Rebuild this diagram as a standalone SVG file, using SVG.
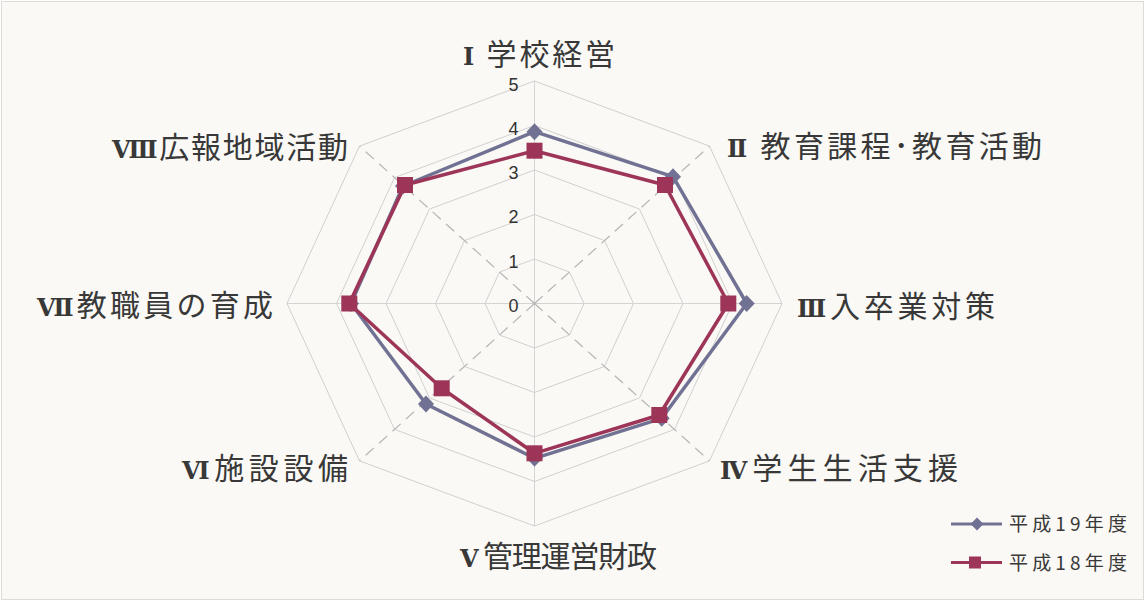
<svg xmlns="http://www.w3.org/2000/svg" width="1145" height="601" viewBox="0 0 1145 601">
<style>
.bg{fill:#faf9f5;stroke:#dcdcd8;stroke-width:1}
.ring{fill:none;stroke:#d0d0d0;stroke-width:1}
.spoke{stroke:#d4d4d4;stroke-width:1}
.dspoke{stroke:#b4b4b4;stroke-width:1.2;stroke-dasharray:11 7}
.tick{font-family:"Liberation Sans",Arial,sans-serif;font-size:18px;fill:#333;text-anchor:middle}
.lbl{font-family:"Noto Sans CJK JP","Noto Sans CJK SC",sans-serif;font-size:30px;fill:#383838}
.num{font-family:"DejaVu Serif","Liberation Serif","Noto Sans CJK JP",serif;font-size:24px;font-weight:bold}
.leg{font-family:"Noto Sans CJK JP","Noto Sans CJK SC",sans-serif;font-size:19px;fill:#383838}
.s19{fill:none;stroke:#717293;stroke-width:3.5;stroke-linejoin:round}
.s18{fill:none;stroke:#9d3558;stroke-width:3.5;stroke-linejoin:round}
.m19{fill:#717293}
.m18{fill:#9d3558}
</style>
<defs>
<path id="dia" d="M0,-8.5 L8,0 L0,8.5 L-8,0 Z"/>
<rect id="sq" x="-8" y="-8" width="16" height="16"/>
<path id="diaS" d="M0,-6.5 L6.5,0 L0,6.5 L-6.5,0 Z"/>
<rect id="sqS" x="-6" y="-6" width="12" height="12"/>
</defs>
<rect class="bg" x="1.5" y="1.5" width="1142" height="598"/>

<g id="grid">
<polygon class="ring" points="534.5,259 569.5,272.03 584,303.5 569.5,334.97 534.5,348 499.5,334.97 485,303.5 499.5,272.03"/>
<polygon class="ring" points="534.5,214.5 604.5,240.56 633.5,303.5 604.5,366.44 534.5,392.5 464.5,366.44 435.5,303.5 464.5,240.56"/>
<polygon class="ring" points="534.5,170 639.5,209.09 683,303.5 639.5,397.91 534.5,437 429.5,397.91 386,303.5 429.5,209.09"/>
<polygon class="ring" points="534.5,125.5 674.5,177.62 732.5,303.5 674.5,429.38 534.5,481.5 394.5,429.38 336.5,303.5 394.5,177.62"/>
<polygon class="ring" points="534.5,81 709.5,146.15 782,303.5 709.5,460.85 534.5,526 359.5,460.85 287,303.5 359.5,146.15"/>
<line class="spoke" x1="534.5" y1="303.5" x2="534.5" y2="81"/>
<line class="spoke" x1="534.5" y1="303.5" x2="534.5" y2="526"/>
<line class="spoke" x1="534.5" y1="303.5" x2="782" y2="303.5"/>
<line class="spoke" x1="534.5" y1="303.5" x2="287" y2="303.5"/>
<line class="dspoke" x1="534.5" y1="303.5" x2="709.5" y2="146.15"/>
<line class="dspoke" x1="534.5" y1="303.5" x2="709.5" y2="460.85"/>
<line class="dspoke" x1="534.5" y1="303.5" x2="359.5" y2="460.85"/>
<line class="dspoke" x1="534.5" y1="303.5" x2="359.5" y2="146.15"/>
</g>

<g id="ticks">
<text class="tick" x="513.5" y="90.5">5</text>
<text class="tick" x="513.5" y="134.5">4</text>
<text class="tick" x="513.5" y="178.5">3</text>
<text class="tick" x="513.5" y="223">2</text>
<text class="tick" x="513.5" y="267.5">1</text>
<text class="tick" x="513.5" y="311.5">0</text>
</g>

<g id="series19">
<polygon class="s19" points="534.5,131.7 673,176.7 746.7,303.5 661.7,418.3 534.5,458.3 426,404 351,303.5 403,186"/>
<use href="#dia" class="m19" x="534.5" y="131.7"/>
<use href="#dia" class="m19" x="673" y="176.7"/>
<use href="#dia" class="m19" x="746.7" y="303.5"/>
<use href="#dia" class="m19" x="661.7" y="418.3"/>
<use href="#dia" class="m19" x="534.5" y="458.3"/>
<use href="#dia" class="m19" x="426" y="404"/>
<use href="#dia" class="m19" x="351" y="303.5"/>
<use href="#dia" class="m19" x="403" y="186"/>
</g>

<g id="series18">
<polygon class="s18" points="534.5,150.7 665,185 728.3,303.5 659.3,415 534.5,453.3 441.7,388.3 349.3,303.5 405,185"/>
<use href="#sq" class="m18" x="534.5" y="150.7"/>
<use href="#sq" class="m18" x="665" y="185"/>
<use href="#sq" class="m18" x="728.3" y="303.5"/>
<use href="#sq" class="m18" x="659.3" y="415"/>
<use href="#sq" class="m18" x="534.5" y="453.3"/>
<use href="#sq" class="m18" x="441.7" y="388.3"/>
<use href="#sq" class="m18" x="349.3" y="303.5"/>
<use href="#sq" class="m18" x="405" y="185"/>
</g>

<g id="labels">
<text class="lbl" x="463" y="65" textLength="152" lengthAdjust="spacing"><tspan class="num">Ⅰ</tspan> 学校経営</text>
<text class="lbl" x="727" y="157" textLength="315" lengthAdjust="spacing"><tspan class="num">Ⅱ</tspan> 教育課程･教育活動</text>
<text class="lbl" x="797" y="316.5" textLength="198" lengthAdjust="spacing"><tspan class="num">Ⅲ</tspan>入卒業対策</text>
<text class="lbl" x="720" y="478.5" textLength="238" lengthAdjust="spacing"><tspan class="num">Ⅳ</tspan>学生生活支援</text>
<text class="lbl" x="460" y="567" textLength="197" lengthAdjust="spacing"><tspan class="num">Ⅴ</tspan> 管理運営財政</text>
<text class="lbl" x="182" y="478.5" textLength="166" lengthAdjust="spacing"><tspan class="num">Ⅵ</tspan>施設設備</text>
<text class="lbl" x="37" y="315.5" textLength="236" lengthAdjust="spacing"><tspan class="num">Ⅶ</tspan>教職員の育成</text>
<text class="lbl" x="112" y="158" textLength="236" lengthAdjust="spacing"><tspan class="num">Ⅷ</tspan>広報地域活動</text>
</g>

<g id="legend">
<line x1="951" y1="524" x2="1002" y2="524" stroke="#717293" stroke-width="3"/>
<use href="#diaS" class="m19" x="977" y="524"/>
<text class="leg" x="1009" y="531" textLength="118" lengthAdjust="spacing">平成19年度</text>
<line x1="951" y1="562.5" x2="1002" y2="562.5" stroke="#9d3558" stroke-width="3"/>
<use href="#sqS" class="m18" x="975" y="562.5"/>
<text class="leg" x="1009" y="569.5" textLength="118" lengthAdjust="spacing">平成18年度</text>
</g>
</svg>
